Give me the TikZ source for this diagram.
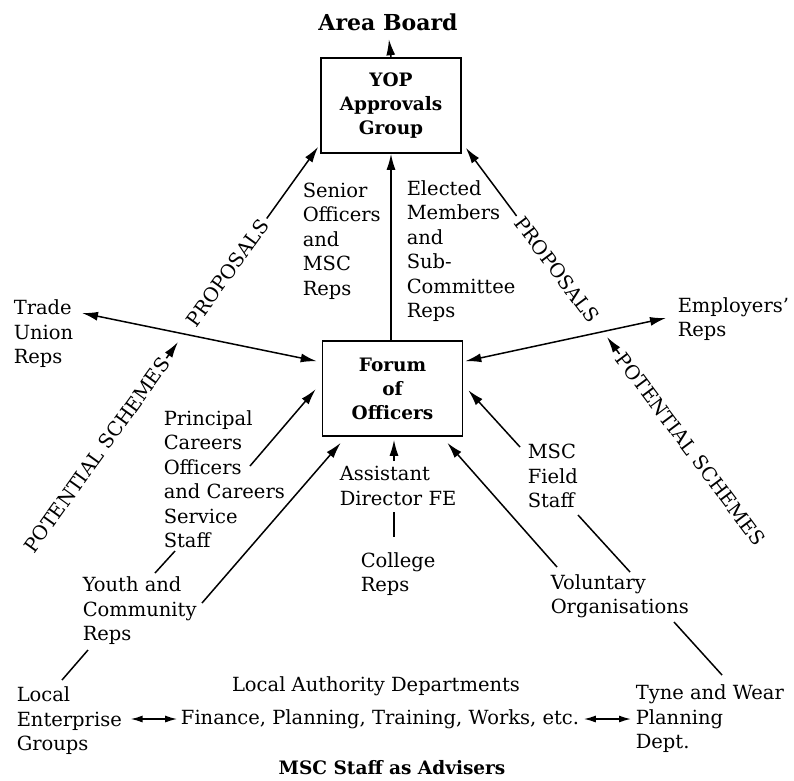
\documentclass[tikz,border=0pt]{standalone}
\usepackage{fontspec}
\setmainfont{DejaVu Serif}
\usetikzlibrary{arrows.meta,calc}
\begin{document}
\begin{tikzpicture}[x=1pt,y=-1pt,
  line width=1.5pt,
  arr/.style={-{Latex[length=16pt,width=9pt]}},
  darr/.style={{Latex[length=12pt,width=7pt]}-{Latex[length=12pt,width=7pt]}},
  dbl/.style={{Latex[length=16pt,width=9pt]}-{Latex[length=16pt,width=9pt]}},
  lbl/.style={inner sep=0pt, align=left, anchor=west, font=\fontsize{19.5}{24.5}\selectfont},
  boxnode/.style={draw, line width=1.6pt, minimum width=140pt, minimum height=95pt,
    align=center, inner sep=0pt, font=\fontsize{18.5}{24}\selectfont\bfseries},
  title/.style={inner sep=0pt, font=\fontsize{18.5}{20}\selectfont\bfseries},
  slant/.style={inner sep=0pt, font=\fontsize{19.5}{24}\selectfont}
]
\useasboundingbox (0,0) rectangle (794,780);

% the two committees
\node[title, font=\fontsize{22}{24}\selectfont\bfseries] (area) at (388,22) {Area Board};
\node[boxnode] (yop) at (391,105.5) {YOP\\Approvals\\Group};
\node[boxnode] (forum) at (392.5,388.5) {Forum\\of\\Officers};

% groups around the forum
\node[lbl] (senior) at (302,241) {Senior\\Officers\\and\\MSC\\Reps};
\node[lbl] (elected) at (406,251) {Elected\\Members\\and\\Sub-\\Committee\\Reps};
\node[lbl] (trade) at (13,334) {Trade\\Union\\Reps};
\node[lbl] (emp) at (677,319) {Employers'\\Reps};
\node[lbl] (pco) at (163,479) {Principal\\Careers\\Officers\\and Careers\\Service\\Staff};
\node[lbl] (youth) at (82,611) {Youth and\\Community\\Reps};
\node[lbl] (leg) at (16,721) {Local\\Enterprise\\Groups};
\node[lbl, anchor=center, align=center] (lad) at (376,686) {Local Authority Departments};
\node[lbl, anchor=center] (fin) at (380,719) {Finance, Planning, Training, Works, etc.};
\node[lbl] (tw) at (635,719) {Tyne and Wear\\Planning\\Dept.};
\node[title] (msc) at (392,768) {MSC Staff as Advisers};
\node[lbl] (ad) at (339,486) {Assistant\\Director FE};
\node[lbl] (col) at (360,574) {College\\Reps};
\node[lbl] (field) at (527,476) {MSC\\Field\\Staff};
\node[lbl] (vol) at (550,596) {Voluntary\\Organisations};

% ends of the connectors beside the texts
\coordinate (tuEnd) at (82,313);
\coordinate (empEnd) at (666,318);
\coordinate (pcoEnd) at (250,466);
\coordinate (pcoLow) at (175,551);
\coordinate (ycUp) at (155,573);
\coordinate (ycEnd) at (202,603);
\coordinate (ycLow) at (88,650);
\coordinate (legTop) at (62,680);
\coordinate (adTop) at (394,461);
\coordinate (adLow) at (394,512);
\coordinate (colTop) at (394,537);
\coordinate (fieldEnd) at (520,447);
\coordinate (fieldLow) at (578,515);
\coordinate (volTop) at (630,572);
\coordinate (volEnd) at (557,567);
\coordinate (orgLow) at (674,622);
\coordinate (twTop) at (722,675);

% upward links
\draw[arr, shorten >=8pt] (yop.north) -- (area.south);
\draw[arr] (forum.north -| yop.south) -- (yop.south);

% proposals and potential schemes, left
\coordinate (lTip) at ([shift={(-2,-7)}]yop.south west);
\coordinate (lMid) at (178,342);
\node[slant, rotate=54.3] (lprop) at ($(lMid)!85pt!(lTip)$) {PROPOSALS};
\node[slant, rotate=54.3] (lsch) at ($(lMid)!-139pt!(lTip)$) {POTENTIAL SCHEMES};
\draw[arr, shorten <=3pt] (lprop.east) -- (lTip);
\draw[arr, shorten <=1pt] (lsch.east) -- (lMid);

% proposals and potential schemes, right
\coordinate (rTip) at ([shift={(4,-6)}]yop.south east);
\coordinate (rMid) at (607,337);
\node[slant, rotate=-53.2] (rprop) at ($(rMid)!84pt!(rTip)$) {PROPOSALS};
\node[slant, rotate=-53.2] (rsch) at ($(rMid)!-140pt!(rTip)$) {POTENTIAL SCHEMES};
\draw[arr, shorten <=3pt] (rprop.west) -- (rTip);
\draw[arr, shorten <=1pt] (rsch.west) -- (rMid);

% links into the forum
\draw[dbl] (tuEnd) -- ([shift={(-5,21)}]forum.north west);
\draw[dbl] ([shift={(2,21)}]forum.north east) -- (empEnd);
\draw[arr] (pcoEnd) -- ([shift={(-6,49)}]forum.north west);
\draw[arr] (ycEnd) -- ([shift={(19,6)}]forum.south west);
\draw[arr] (adTop) -- ([shift={(1.5,3)}]forum.south);
\draw[arr] (volEnd) -- ([shift={(-16,6)}]forum.south east);
\draw[arr] (fieldEnd) -- ([shift={(5,50)}]forum.north east);

% plain links between groups
\draw (ycUp) -- (pcoLow);
\draw (ycLow) -- (legTop);
\draw (adLow) -- (colTop);
\draw (fieldLow) -- (volTop);
\draw (orgLow) -- (twTop);

% local authority departments
\draw[darr, shorten <=3pt, shorten >=8pt] (fin.west) -- (fin.west -| leg.east);
\draw[darr, shorten <=4pt, shorten >=4pt] (fin.east) -- (fin.east -| tw.west);
\end{tikzpicture}
\end{document}
